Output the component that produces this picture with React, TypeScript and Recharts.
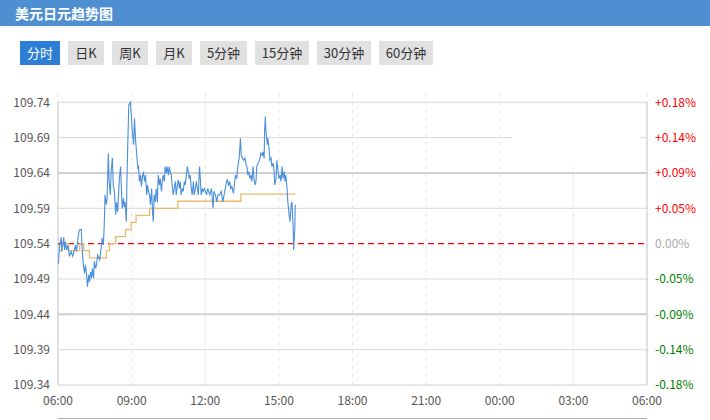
import React from 'react';
import { LineChart, Line, XAxis, YAxis, ReferenceLine } from 'recharts';

const title = '美元日元趋势图';
const buttons = ['分时', '日K', '周K', '月K', '5分钟', '15分钟', '30分钟', '60分钟'];
const buttonWidths = [40, 36, 36, 36, 47, 54, 54, 54];

const prevClose = 109.54;
const yTicks = [109.34, 109.39, 109.44, 109.49, 109.54, 109.59, 109.64, 109.69, 109.74];
const rightTickLabels = ['-0.18%', '-0.14%', '-0.09%', '-0.05%', '0.00%', '+0.05%', '+0.09%', '+0.14%', '+0.18%'];
const xTicks = [0, 180, 360, 540, 720, 900, 1080, 1260, 1440];
const xTickLabels = ['06:00', '09:00', '12:00', '15:00', '18:00', '21:00', '00:00', '03:00', '06:00'];

// minutes since 06:00
const priceTimes = [
  1, 4, 8, 9, 12, 14, 16, 18, 21, 24, 28, 32, 36, 40, 43, 45, 48, 51, 54, 57, 59, 62, 65, 67, 70, 72, 75, 77, 80, 82,
  84, 87, 89, 92, 94, 97, 102, 106, 108, 111, 113, 115, 118, 120, 123, 125, 128, 130, 133, 135, 138, 141, 143, 146, 148,
  150, 153, 155, 157, 160, 162, 164, 167, 169, 171, 173, 177, 182, 185, 187, 190, 192, 195, 197, 199, 202, 204, 207, 209,
  212, 214, 217, 219, 221, 224, 226, 229, 231, 233, 235, 238, 240, 243, 245, 248, 250, 253, 255, 257, 260, 262, 265, 267,
  270, 272, 275, 277, 279, 282, 284, 287, 289, 292, 294, 297, 299, 301, 304, 306, 309, 311, 314, 316, 319, 321, 323, 326,
  328, 331, 333, 336, 338, 341, 343, 346, 348, 350, 353, 355, 358, 363, 366, 371, 375, 379, 381, 385, 388, 391, 395, 399,
  403, 406, 409, 412, 414, 417, 420, 422, 425, 429, 432, 434, 437, 440, 443, 446, 448, 451, 454, 457, 460, 462, 464, 467,
  469, 472, 474, 477, 479, 482, 484, 486, 489, 491, 494, 496, 499, 501, 504, 505, 507, 508, 510, 512, 513, 516, 518, 521,
  523, 526, 528, 530, 533, 535, 538, 540, 543, 545, 548, 550, 553, 555, 557, 560, 562, 565, 567, 570, 572, 575, 576, 579,
  580,
];
const priceValues = [
  109.512, 109.538, 109.549, 109.529, 109.54, 109.549, 109.531, 109.543, 109.531, 109.538, 109.522, 109.529, 109.522,
  109.531, 109.538, 109.529, 109.543, 109.557, 109.56, 109.56, 109.533, 109.51, 109.498, 109.51, 109.496, 109.479, 109.496,
  109.486, 109.5, 109.491, 109.505, 109.491, 109.515, 109.505, 109.51, 109.524, 109.517, 109.536, 109.548, 109.538, 109.566,
  109.609, 109.595, 109.604, 109.668, 109.628, 109.609, 109.642, 109.661, 109.623, 109.614, 109.581, 109.599, 109.585,
  109.609, 109.632, 109.649, 109.618, 109.59, 109.604, 109.592, 109.599, 109.571, 109.642, 109.689, 109.736, 109.74,
  109.698, 109.68, 109.717, 109.684, 109.67, 109.647, 109.649, 109.628, 109.637, 109.621, 109.637, 109.64, 109.628,
  109.637, 109.609, 109.623, 109.614, 109.609, 109.595, 109.618, 109.585, 109.571, 109.609, 109.599, 109.618, 109.599,
  109.637, 109.623, 109.632, 109.614, 109.628, 109.637, 109.628, 109.649, 109.64, 109.649, 109.637, 109.649, 109.64,
  109.637, 109.623, 109.609, 109.618, 109.628, 109.609, 109.623, 109.63, 109.618, 109.628, 109.609, 109.618, 109.614,
  109.628, 109.623, 109.637, 109.649, 109.64, 109.632, 109.637, 109.618, 109.609, 109.628, 109.609, 109.618, 109.628,
  109.618, 109.609, 109.649, 109.632, 109.609, 109.618, 109.614, 109.618, 109.609, 109.618, 109.609, 109.618, 109.59,
  109.614, 109.609, 109.599, 109.609, 109.609, 109.614, 109.599, 109.609, 109.618, 109.628, 109.63, 109.623, 109.628,
  109.618, 109.621, 109.611, 109.628, 109.637, 109.632, 109.651, 109.661, 109.689, 109.665, 109.661, 109.658, 109.661,
  109.651, 109.649, 109.637, 109.642, 109.632, 109.637, 109.628, 109.649, 109.632, 109.623, 109.628, 109.649, 109.654,
  109.656, 109.661, 109.668, 109.665, 109.67, 109.661, 109.698, 109.72, 109.703, 109.689, 109.68, 109.689, 109.675,
  109.658, 109.661, 109.649, 109.654, 109.644, 109.623, 109.632, 109.658, 109.642, 109.632, 109.637, 109.628, 109.649,
  109.632, 109.642, 109.628, 109.637, 109.618, 109.599, 109.581, 109.571, 109.595, 109.599, 109.562, 109.531, 109.562,
  109.595,
];

const avgTimes = [1, 10, 26, 53, 63, 77, 118, 126, 141, 165, 179, 191, 224, 293, 447, 580];
const avgValues = [
  109.53, 109.54, 109.53, 109.54, 109.53, 109.52, 109.53, 109.54, 109.55, 109.56, 109.57, 109.58, 109.59, 109.6, 109.61,
  109.61,
];

const priceData = priceTimes.map((t, i) => ({ t, p: priceValues[i] }));
const avgData = avgTimes.map((t, i) => ({ t, a: avgValues[i] }));

const Y_MIN = 109.34;
const Y_MAX = 109.7574;
const Y_TOP_TICK = 109.74;

const RightTick = (props: any) => {
  const { x, y, index } = props;
  const label = rightTickLabels[index];
  const color = label.startsWith('+') ? '#ff0000' : label.startsWith('-') ? '#008000' : '#aaaaaa';
  return (
    <text x={x} y={y} dy="0.355em" fill={color} fontSize={12} textAnchor="start">
      {label}
    </text>
  );
};

export default function App() {
  const font = '"Noto Sans CJK SC", "Microsoft YaHei", sans-serif';
  let bx = 20;
  const btnPos = buttonWidths.map((w) => {
    const left = bx;
    bx += w + 8;
    return left;
  });
  return (
    <div style={{ position: 'absolute', left: 0, top: 0, width: 710, height: 420, background: '#fff', fontFamily: font, overflow: 'hidden' }}>
      <div style={{ position: 'absolute', left: 0, top: 0 }}>
        <LineChart width={710} height={420} margin={{ top: 90, right: 8, bottom: 15, left: 8 }}>
          <XAxis
            dataKey="t"
            type="number"
            domain={[0, 1440]}
            ticks={xTicks}
            interval={0}
            tickFormatter={(v: number) => xTickLabels[xTicks.indexOf(v)]}
            tickLine={false}
            tickMargin={5}
            axisLine={{ stroke: '#cccccc' }}
            tick={{ fill: '#555', fontSize: 12 }}
            height={20}
            allowDataOverflow
          />
          <YAxis
            yAxisId="left"
            orientation="left"
            type="number"
            domain={[Y_MIN, Y_MAX]}
            ticks={yTicks}
            interval={0}
            tickFormatter={(v: number) => v.toFixed(2)}
            tickLine={false}
            axisLine={false}
            tick={{ fill: '#555', fontSize: 12 }}
            width={50}
            allowDataOverflow
          />
          <YAxis
            yAxisId="right"
            orientation="right"
            type="number"
            domain={[Y_MIN, Y_MAX]}
            ticks={yTicks}
            interval={0}
            tickLine={false}
            axisLine={false}
            tick={<RightTick />}
            width={55}
            allowDataOverflow
          />
          {xTicks.map((t) =>
            t === 1260 ? (
              <ReferenceLine
                key={'v' + t}
                yAxisId="left"
                segment={[{ x: t, y: Y_MIN }, { x: t, y: 109.648 }]}
                stroke="#e4e4e4"
                strokeDasharray="4 4"
              />
            ) : (
              <ReferenceLine key={'v' + t} yAxisId="left" x={t} stroke="#e4e4e4" strokeDasharray="4 4" />
            )
          )}
          {yTicks
            .filter((v) => v !== prevClose && v !== Y_MIN)
            .map((v) =>
              v === 109.69 ? (
                [
                  <ReferenceLine key={'h1' + v} yAxisId="left" segment={[{ x: 0, y: v }, { x: 1110, y: v }]} stroke="#d8d8d8" />,
                  <ReferenceLine key={'h2' + v} yAxisId="left" segment={[{ x: 1423, y: v }, { x: 1440, y: v }]} stroke="#d8d8d8" />,
                ]
              ) : (
                <ReferenceLine
                  key={'h' + v}
                  yAxisId="left"
                  y={v}
                  stroke={v === 109.64 || v === 109.44 ? '#d0d0d0' : '#d8d8d8'}
                  strokeWidth={v === 109.64 || v === 109.44 ? 2 : 1}
                />
              )
            )}
          <ReferenceLine yAxisId="left" segment={[{ x: 0, y: Y_MIN }, { x: 0, y: Y_TOP_TICK }]} stroke="#c8c8c8" />
          <ReferenceLine yAxisId="left" segment={[{ x: 1440, y: Y_MIN }, { x: 1440, y: Y_TOP_TICK }]} stroke="#c8c8c8" />
          <ReferenceLine yAxisId="left" y={prevClose} stroke="#ff0000" strokeWidth={1.3} strokeDasharray="6 4" />
          <Line
            yAxisId="left"
            data={avgData}
            dataKey="a"
            type="stepAfter"
            stroke="#e9bb6c"
            strokeWidth={1.3}
            dot={false}
            activeDot={false}
            isAnimationActive={false}
          />
          <Line
            yAxisId="left"
            data={priceData}
            dataKey="p"
            type="linear"
            stroke="#4a8fdc"
            strokeWidth={1.1}
            dot={false}
            activeDot={false}
            isAnimationActive={false}
          />
        </LineChart>
      </div>
      <div
        style={{
          position: 'absolute',
          left: 0,
          top: 0,
          width: 710,
          height: 26,
          background: '#4d8fd1',
          color: '#fff',
          fontWeight: 'bold',
          fontSize: 14,
          lineHeight: '26px',
          paddingLeft: 15,
          boxSizing: 'border-box',
        }}
      >
        {title}
      </div>
      {buttons.map((b, i) => (
        <div
          key={b}
          style={{
            position: 'absolute',
            left: btnPos[i],
            top: 41,
            width: buttonWidths[i],
            height: 24,
            lineHeight: '24px',
            textAlign: 'center',
            fontSize: 13,
            background: i === 0 ? '#2d7fd6' : '#e1e1e1',
            color: i === 0 ? '#fff' : '#333',
          }}
        >
          {b}
        </div>
      ))}
      <div style={{ position: 'absolute', left: 58, top: 418, width: 589, height: 1, background: '#b0b0b0' }} />
    </div>
  );
}
